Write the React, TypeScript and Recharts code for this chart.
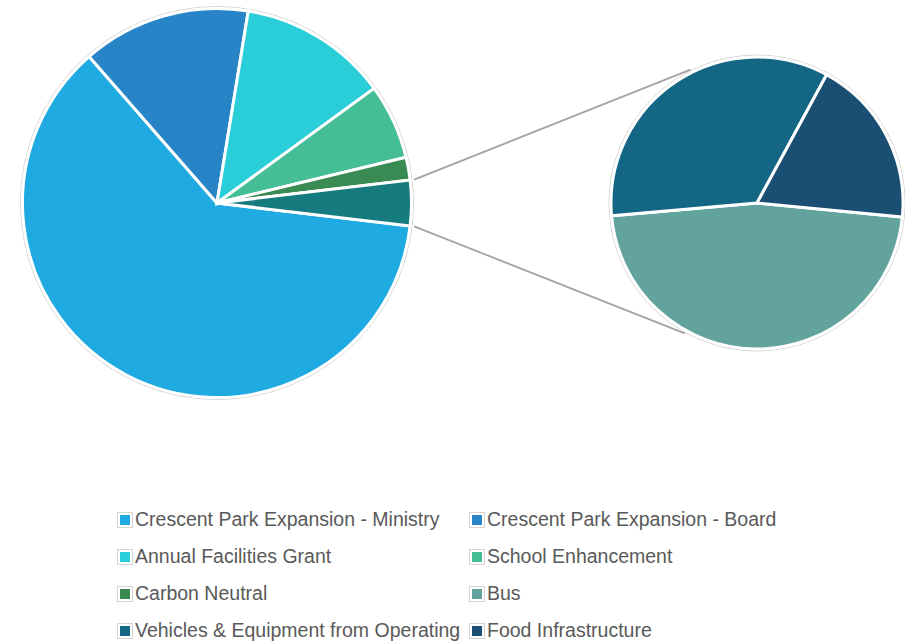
import { PieChart, Pie, Cell, Legend, Customized } from 'recharts'

// primary pie (legend order, drawn clockwise)
const mainNames = [
  'Crescent Park Expansion - Ministry',
  'Crescent Park Expansion - Board',
  'Annual Facilities Grant',
  'School Enhancement',
  'Carbon Neutral',
]
const mainValues = [61.7, 14.0, 12.4, 6.25, 1.9]
const mainColors = ['#1FAAE1', '#2784C6', '#29CED8', '#45BE98', '#3A8A53']

// secondary pie, shown as one "other" slice in the primary pie
const subNames = ['Bus', 'Vehicles & Equipment from Operating', 'Food Infrastructure']
const subValues = [1.77, 1.29, 0.7]
const subColors = ['#62A39E', '#136784', '#1A4E72']
const otherColor = '#167B7E'

const otherValue = subValues.reduce((a, b) => a + b, 0)
const total = mainValues.reduce((a, b) => a + b, 0) + otherValue

const mainData = [
  ...mainNames.map((name, i) => ({ name, value: mainValues[i], color: mainColors[i] })),
  { name: 'Other', value: otherValue, color: otherColor },
]
const subData = subNames.map((name, i) => ({ name, value: subValues[i], color: subColors[i] }))

const legendItems = [
  ...mainNames.map((name, i) => ({ name, color: mainColors[i] })),
  ...subNames.map((name, i) => ({ name, color: subColors[i] })),
]

const W = 905
const H = 643
const main = { cx: 217, cy: 203, r: 194.5 }
const sub = { cx: 757, cy: 203, r: 146 }

// the "other" slice sits centred on 3 o'clock
const otherAngle = (otherValue / total) * 360
const mainStart = -otherAngle / 2
const subStart = -5.5

const rad = Math.PI / 180
const polar = (c: { cx: number; cy: number }, r: number, a: number) => ({
  x: c.cx + r * Math.cos(a * rad),
  y: c.cy - r * Math.sin(a * rad),
})

function SeriesLines() {
  const a1 = polar(main, main.r + 4, otherAngle / 2)
  const a2 = polar(main, main.r + 4, -otherAngle / 2)
  const b1 = polar(sub, sub.r + 3, 116.5)
  const b2 = polar(sub, sub.r + 3, 241)
  return (
    <g>
      <circle cx={main.cx} cy={main.cy} r={main.r + 2} fill="none" stroke="#d4d4d4" strokeWidth={1} />
      <circle cx={sub.cx} cy={sub.cy} r={sub.r + 2} fill="none" stroke="#d4d4d4" strokeWidth={1} />
      <line x1={a1.x} y1={a1.y} x2={b1.x} y2={b1.y} stroke="#a3a3a3" strokeWidth={1.75} />
      <line x1={a2.x} y1={a2.y} x2={b2.x} y2={b2.y} stroke="#a3a3a3" strokeWidth={1.75} />
    </g>
  )
}

function LegendBox() {
  return (
    <div
      style={{
        display: 'grid',
        gridTemplateColumns: '352px 352px',
        fontFamily: '"Liberation Sans", Arial, sans-serif',
        fontSize: 19.5,
        color: '#595959',
      }}
    >
      {legendItems.map((it) => (
        <div key={it.name} style={{ display: 'flex', alignItems: 'center', height: 37, whiteSpace: 'nowrap' }}>
          <span
            style={{
              display: 'inline-block',
              width: 10,
              height: 10,
              background: it.color,
              border: '2px solid #fff',
              outline: '1px solid #d4d4d4',
              marginRight: 3,
              marginLeft: 1,
            }}
          />
          <span>{it.name}</span>
        </div>
      ))}
    </div>
  )
}

export default function App() {
  return (
    <div style={{ position: 'absolute', left: 0, top: 0, width: W, height: H, background: '#fff' }}>
      <PieChart width={W} height={H} margin={{ top: 0, right: 0, bottom: 0, left: 0 }}>
        <Customized component={<SeriesLines />} />
        <Pie
          data={mainData}
          dataKey="value"
          nameKey="name"
          cx={main.cx}
          cy={main.cy}
          outerRadius={main.r}
          startAngle={mainStart}
          endAngle={mainStart - 360}
          stroke="#fff"
          strokeWidth={3}
          isAnimationActive={false}
        >
          {mainData.map((d) => (
            <Cell key={d.name} fill={d.color} />
          ))}
        </Pie>
        <Pie
          data={subData}
          dataKey="value"
          nameKey="name"
          cx={sub.cx}
          cy={sub.cy}
          outerRadius={sub.r}
          startAngle={subStart}
          endAngle={subStart - 360}
          stroke="#fff"
          strokeWidth={3}
          isAnimationActive={false}
        >
          {subData.map((d) => (
            <Cell key={d.name} fill={d.color} />
          ))}
        </Pie>
        <Legend
          content={<LegendBox />}
          wrapperStyle={{ position: 'absolute', left: 117, top: 501, width: 720, bottom: 'auto' }}
        />
      </PieChart>
    </div>
  )
}
